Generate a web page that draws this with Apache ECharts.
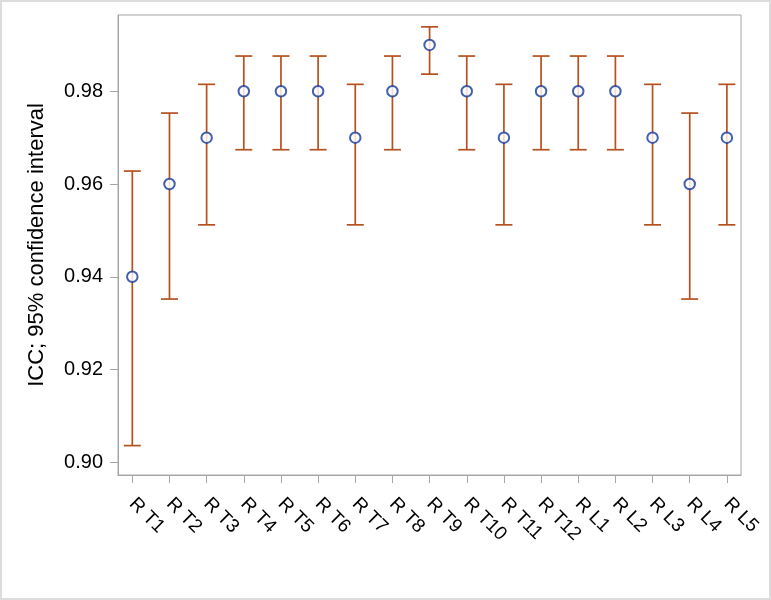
<!DOCTYPE html>
<html>
<head>
<meta charset="utf-8">
<script src="https://cdn.jsdelivr.net/npm/echarts@6/dist/echarts.min.js"></script>
<style>
  html, body { margin: 0; padding: 0; background: #fff; }
  #main { position: absolute; left: 0; top: 0; width: 771px; height: 600px; }
  /* thin grey frame round the whole picture */
  #frame { position: absolute; left: 0; top: 0; width: 767px; height: 596px;
           border: 2px solid #dcdcdc; pointer-events: none; }
</style>
</head>
<body>
<div id="main"></div>
<div id="frame"></div>
<script>
// categories (x axis)
var categories = ['R T1','R T2','R T3','R T4','R T5','R T6','R T7','R T8','R T9','R T10',
                  'R T11','R T12','R L1','R L2','R L3','R L4','R L5'];
// ICC point estimates
var icc   = [0.94, 0.96, 0.97, 0.98, 0.98, 0.98, 0.97, 0.98, 0.99, 0.98,
             0.97, 0.98, 0.98, 0.98, 0.97, 0.96, 0.97];
// 95% confidence interval, lower / upper
var lower = [0.9036, 0.9352, 0.9512, 0.9674, 0.9674, 0.9674, 0.9512, 0.9674, 0.9837, 0.9674,
             0.9512, 0.9674, 0.9674, 0.9674, 0.9512, 0.9352, 0.9512];
var upper = [0.9628, 0.9753, 0.9815, 0.9876, 0.9876, 0.9876, 0.9815, 0.9876, 0.9939, 0.9876,
             0.9815, 0.9876, 0.9876, 0.9876, 0.9815, 0.9753, 0.9815];
// y tick labels
var yTicks = [0.90, 0.92, 0.94, 0.96, 0.98];

var xIdx = categories.map(function (c, i) { return i; });
var points = icc.map(function (v, i) { return [i, v]; });
var bars = icc.map(function (v, i) { return [i, lower[i], upper[i]]; });

var font = 'Liberation Sans, Arial, Helvetica, sans-serif';
var axisGrey = '#a6a6a6';
var barColor = '#b5511f';
var dotColor = '#14389a';

var myChart = echarts.init(document.getElementById('main'));
myChart.setOption({
    animation: false,
    backgroundColor: '#fff',
    grid: {
        left: 118, top: 15, right: 30, bottom: 125,
        show: true, borderColor: axisGrey, borderWidth: 1, backgroundColor: '#fff'
    },
    xAxis: {
        type: 'value',
        min: -0.385,
        max: 16.38,
        splitLine: { show: false },
        axisLine: { onZero: false, lineStyle: { color: axisGrey, width: 1 } },
        axisTick: { show: true, length: 8, lineStyle: { color: axisGrey }, customValues: xIdx },
        axisLabel: {
            customValues: xIdx,
            rotate: -45,
            margin: 26,
            color: '#000',
            fontSize: 19,
            fontFamily: font,
            formatter: function (v) { return categories[Math.round(v)] || ''; }
        }
    },
    yAxis: {
        type: 'value',
        min: 0.89726,
        max: 0.99645,
        name: 'ICC; 95% confidence interval',
        nameLocation: 'middle',
        nameRotate: 90,
        nameGap: 70,
        nameTextStyle: { color: '#000', fontSize: 22, fontFamily: font },
        splitLine: { show: false },
        axisLine: { show: true, onZero: false, lineStyle: { color: axisGrey, width: 1 } },
        axisTick: { show: true, length: 8, lineStyle: { color: axisGrey }, customValues: yTicks },
        axisLabel: {
            customValues: yTicks,
            margin: 15,
            color: '#000',
            fontSize: 20,
            fontFamily: font,
            formatter: function (v) { return v.toFixed(2); }
        }
    },
    series: [
        {
            // 置信区间 error bars
            type: 'custom',
            data: bars,
            z: 2,
            renderItem: function (params, api) {
                var x = api.value(0);
                var lo = api.coord([x, api.value(1)]);
                var hi = api.coord([x, api.value(2)]);
                var hw = 8.5;
                var st = { stroke: barColor, lineWidth: 1.7 };
                return {
                    type: 'group',
                    children: [
                        { type: 'line', shape: { x1: lo[0], y1: lo[1], x2: hi[0], y2: hi[1] }, style: st },
                        { type: 'line', shape: { x1: hi[0] - hw, y1: hi[1], x2: hi[0] + hw, y2: hi[1] }, style: st },
                        { type: 'line', shape: { x1: lo[0] - hw, y1: lo[1], x2: lo[0] + hw, y2: lo[1] }, style: st }
                    ]
                };
            }
        },
        {
            type: 'scatter',
            data: points,
            z: 3,
            symbol: 'circle',
            symbolSize: 10.5,
            itemStyle: { color: '#fff', borderColor: dotColor, borderWidth: 2 }
        }
    ]
});
</script>
</body>
</html>
